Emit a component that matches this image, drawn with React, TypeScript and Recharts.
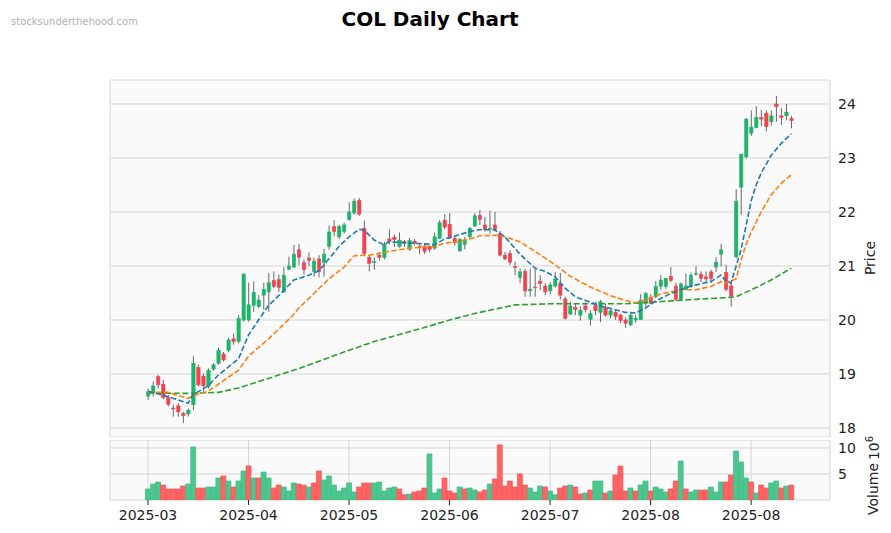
import React from 'react';
import { ComposedChart, Bar, Line, XAxis, YAxis, CartesianGrid, Cell } from 'recharts';

// daily candles, index 0 = first session shown
const opens = [
  18.59, 18.65, 18.95, 18.81, 18.56, 18.37, 18.41, 18.27, 18.26, 18.43, 19.12, 18.96, 18.77, 19.09, 19.2, 19.37, 19.44, 19.65, 19.6, 20.0,
  20.0, 20.27, 20.25, 20.46, 20.52, 20.73, 20.75, 20.52, 20.94, 20.98, 21.3, 21.06, 21.15, 20.9, 21.13, 21.06, 21.36, 21.73, 21.54, 21.64,
  21.86, 21.98, 22.21, 21.7, 21.16, 21.07, 21.2, 21.16, 21.5, 21.53, 21.36, 21.45, 21.31, 21.46, 21.36, 21.37, 21.36, 21.33, 21.51, 21.85,
  21.77, 21.51, 21.28, 21.4, 21.54, 21.74, 21.94, 21.76, 21.69, 21.76, 21.6, 21.2, 21.23, 20.99, 20.79, 20.9, 20.54, 20.61, 20.72, 20.63,
  20.54, 20.63, 20.67, 20.39, 20.11, 20.23, 20.09, 20.26, 20.01, 20.27, 20.14, 20.23, 20.09, 20.14, 20.09, 20.0, 19.91, 20.0, 20.01, 20.31,
  20.42, 20.43, 20.62, 20.62, 20.81, 20.63, 20.38, 20.56, 20.62, 20.85, 20.85, 20.8, 20.89, 20.98, 21.22, 20.88, 20.63, 21.17, 22.46, 23.02,
  23.46, 23.56, 23.75, 23.83, 23.67, 24.0, 23.78, 23.78, 23.73,
];
const highs = [
  18.73, 18.86, 18.98, 18.89, 18.61, 18.43, 18.46, 18.3, 18.36, 19.33, 19.17, 19.01, 19.1, 19.2, 19.49, 19.41, 19.67, 19.75, 20.09, 20.86,
  20.69, 20.71, 20.46, 20.69, 20.87, 20.9, 20.84, 20.98, 21.17, 21.39, 21.41, 21.12, 21.25, 21.15, 21.2, 21.32, 21.75, 21.85, 21.76, 21.8,
  22.18, 22.25, 22.26, 21.84, 21.2, 21.16, 21.25, 21.45, 21.68, 21.58, 21.62, 21.48, 21.52, 21.5, 21.4, 21.42, 21.38, 21.62, 21.85, 21.96,
  21.98, 21.55, 21.52, 21.54, 21.72, 21.98, 22.04, 21.91, 22.02, 22.0, 21.65, 21.26, 21.29, 21.08, 20.95, 20.95, 20.95, 20.95, 20.83, 20.68,
  20.7, 20.89, 20.87, 20.43, 20.34, 20.3, 20.25, 20.33, 20.18, 20.34, 20.37, 20.3, 20.2, 20.2, 20.12, 20.05, 20.12, 20.09, 20.48, 20.52,
  20.48, 20.72, 20.83, 20.78, 20.98, 20.69, 20.69, 20.86, 20.88, 20.99, 20.9, 20.9, 20.93, 21.16, 21.41, 21.02, 20.68, 22.42, 23.08, 23.74,
  23.88, 23.96, 23.89, 23.88, 23.88, 24.15, 23.92, 24.0, 23.78,
];
const lows = [
  18.52, 18.58, 18.73, 18.53, 18.4, 18.21, 18.21, 18.09, 18.21, 18.33, 18.77, 18.67, 18.73, 19.06, 19.17, 19.23, 19.4, 19.54, 19.57, 19.97,
  19.97, 20.15, 20.22, 20.19, 20.15, 20.59, 20.52, 20.5, 20.92, 20.96, 21.02, 20.84, 21.0, 20.8, 20.79, 20.8, 21.3, 21.55, 21.5, 21.6,
  21.84, 21.95, 21.93, 21.2, 20.9, 20.93, 21.1, 21.12, 21.4, 21.35, 21.34, 21.35, 21.28, 21.38, 21.22, 21.22, 21.25, 21.3, 21.5, 21.68,
  21.5, 21.38, 21.26, 21.31, 21.5, 21.72, 21.76, 21.64, 21.6, 21.64, 21.18, 21.11, 21.02, 20.83, 20.68, 20.43, 20.43, 20.43, 20.55, 20.46,
  20.48, 20.6, 20.38, 20.01, 20.09, 20.09, 19.99, 20.14, 19.9, 20.09, 19.96, 20.06, 20.03, 20.0, 19.94, 19.85, 19.88, 19.95, 20.0, 20.25,
  20.29, 20.4, 20.56, 20.58, 20.7, 20.35, 20.35, 20.55, 20.6, 20.82, 20.7, 20.68, 20.69, 20.89, 20.99, 20.53, 20.25, 21.14, 21.95, 22.99,
  23.41, 23.55, 23.59, 23.49, 23.6, 23.67, 23.61, 23.7, 23.55,
];
const closes = [
  18.67, 18.78, 18.8, 18.56, 18.44, 18.36, 18.3, 18.23, 18.33, 19.2, 18.8, 18.78, 19.07, 19.17, 19.44, 19.26, 19.63, 19.6, 20.03, 20.85,
  20.28, 20.51, 20.37, 20.57, 20.69, 20.62, 20.6, 20.83, 21.0, 21.22, 21.16, 20.93, 21.1, 21.09, 20.9, 21.22, 21.63, 21.64, 21.73, 21.76,
  22.0, 22.2, 21.96, 21.23, 21.05, 21.08, 21.16, 21.39, 21.45, 21.49, 21.48, 21.42, 21.47, 21.42, 21.34, 21.27, 21.31, 21.54, 21.8, 21.72,
  21.52, 21.43, 21.49, 21.48, 21.7, 21.93, 21.86, 21.68, 21.7, 21.68, 21.2, 21.13, 21.07, 20.98, 20.89, 20.54, 20.57, 20.6, 20.67, 20.52,
  20.65, 20.76, 20.46, 20.03, 20.26, 20.19, 20.18, 20.19, 20.12, 20.17, 20.34, 20.09, 20.17, 20.06, 19.99, 19.94, 20.09, 20.03, 20.37, 20.49,
  20.31, 20.62, 20.74, 20.77, 20.73, 20.38, 20.67, 20.63, 20.83, 20.86, 20.77, 20.76, 20.77, 21.07, 21.3, 20.57, 20.44, 22.2, 23.07, 23.72,
  23.57, 23.75, 23.72, 23.58, 23.78, 23.95, 23.75, 23.85, 23.69,
];
// volume in millions
const volumes = [
  2.12, 3.08, 3.46, 2.88, 2.12, 2.12, 2.12, 2.69, 3.08, 10.2, 2.31, 2.31, 2.5, 2.5, 4.23, 4.62, 3.65, 2.5, 3.65, 5.58,
  6.54, 4.23, 4.23, 5.38, 4.23, 2.31, 2.88, 2.5, 1.73, 3.27, 3.08, 2.88, 2.5, 3.27, 5.58, 3.85, 4.62, 2.88, 1.73, 2.31,
  3.27, 1.54, 2.5, 3.27, 3.27, 3.27, 3.46, 1.73, 2.31, 2.5, 2.12, 1.0, 1.15, 1.54, 1.73, 2.31, 8.85, 1.35, 2.12, 4.23,
  1.73, 1.35, 2.5, 2.12, 2.31, 1.92, 1.54, 1.92, 3.08, 4.04, 10.6, 2.69, 3.65, 2.5, 5.0, 2.88, 2.31, 1.54, 2.69, 2.5,
  1.73, 1.0, 2.31, 2.69, 2.88, 2.5, 1.15, 1.35, 1.92, 3.65, 3.65, 1.35, 1.73, 4.81, 6.54, 1.73, 2.31, 1.73, 2.88, 3.65,
  1.73, 2.5, 2.12, 1.54, 2.12, 3.65, 7.5, 2.12, 1.54, 1.92, 1.92, 1.92, 2.5, 1.54, 3.46, 3.46, 4.81, 9.42, 7.31, 4.23,
  3.46, 1.35, 2.88, 2.31, 3.27, 3.65, 2.31, 2.69, 2.88,
];

// moving averages at [index, price]
const maBlue: [number, number][] = [
  [0, 18.68], [4, 18.58], [8, 18.46], [9, 18.62], [12, 18.78], [14, 18.98], [18, 19.28], [20, 19.72], [22, 20.0], [24, 20.27],
  [26, 20.45], [29, 20.74], [32, 20.83], [34, 20.91], [35, 21.02], [38, 21.36], [40, 21.54], [42, 21.68], [43, 21.66], [45, 21.48],
  [47, 21.39], [48, 21.45], [51, 21.43], [55, 21.41], [57, 21.39], [59, 21.5], [61, 21.55], [64, 21.64], [66, 21.67], [69, 21.67],
  [71, 21.54], [74, 21.22], [77, 20.96], [79, 20.9], [81, 20.8], [83, 20.59], [85, 20.43], [88, 20.33], [90, 20.26], [93, 20.19],
  [95, 20.14], [97, 20.13], [99, 20.22], [101, 20.35], [104, 20.49], [107, 20.6], [110, 20.67], [112, 20.71], [114, 20.83], [115, 20.72],
  [116, 20.68], [118, 21.3], [119, 21.75], [120, 22.2], [121, 22.5], [122, 22.72], [124, 23.05], [126, 23.27], [128, 23.45],
];
const maOrange: [number, number][] = [
  [0, 18.66], [4, 18.66], [6, 18.6], [8, 18.55], [9, 18.6], [12, 18.68], [14, 18.81], [18, 19.07], [20, 19.33], [24, 19.65],
  [26, 19.83], [29, 20.1], [30, 20.22], [32, 20.4], [36, 20.76], [39, 20.98], [41, 21.19], [44, 21.2], [48, 21.27], [52, 21.33],
  [57, 21.36], [59, 21.42], [62, 21.46], [64, 21.5], [66, 21.56], [70, 21.57], [71, 21.54], [74, 21.45], [78, 21.21], [81, 21.02],
  [84, 20.81], [88, 20.61], [92, 20.45], [95, 20.36], [97, 20.32], [99, 20.37], [102, 20.48], [106, 20.56], [109, 20.56], [112, 20.62],
  [114, 20.71], [115, 20.69], [117, 20.76], [118, 21.1], [119, 21.4], [120, 21.62], [122, 22.0], [124, 22.32], [126, 22.53], [128, 22.69],
];
const maGreen: [number, number][] = [
  [0, 18.65], [8, 18.64], [14, 18.66], [18, 18.74], [25, 18.95], [30, 19.1], [35, 19.27], [40, 19.44], [45, 19.6], [50, 19.73],
  [55, 19.86], [60, 20.0], [65, 20.12], [70, 20.22], [73, 20.28], [80, 20.3], [95, 20.3], [107, 20.37], [116, 20.42], [117, 20.43],
  [121, 20.6], [124, 20.74], [128, 20.96],
];

const tickIdx = [0, 20, 40, 60, 80, 100, 120];
const tickLabels = ['2025-03', '2025-04', '2025-05', '2025-06', '2025-07', '2025-08', '2025-08'];
const priceTicks = [18, 19, 20, 21, 22, 23, 24];
const volTicks = [5, 10];

const UP = '#1db36b';
const DOWN = '#f0434f';
const VOL_UP = '#4cc58f';
const VOL_DOWN = '#ff6363';
const FONT = '"DejaVu Sans", sans-serif';

const lookup = (pts: [number, number][]) => {
  const m = new Map<number, number>();
  pts.forEach(([i, v]) => m.set(i, v));
  return m;
};
const blueMap = lookup(maBlue);
const orangeMap = lookup(maOrange);
const greenMap = lookup(maGreen);

const data = closes.map((c, i) => ({
  i,
  o: opens[i],
  h: highs[i],
  l: lows[i],
  c,
  v: volumes[i],
  range: [lows[i], highs[i]],
  volUp: i === 0 || c >= closes[i - 1],
  ma1: blueMap.get(i) ?? null,
  ma2: orangeMap.get(i) ?? null,
  ma3: greenMap.get(i) ?? null,
}));

const Candle = (props: any) => {
  const { x, y, width, height, payload } = props;
  if (!payload || height == null) return null;
  const { o, h, l, c } = payload;
  const px = (p: number) => y + ((h - p) / (h - l)) * height;
  const cx = x + width / 2;
  const up = c >= o;
  const top = px(Math.max(o, c));
  const bot = px(Math.min(o, c));
  const color = up ? UP : DOWN;
  return (
    <g>
      <line x1={cx} x2={cx} y1={y} y2={y + height} stroke="#666" strokeWidth={1} />
      <rect x={x} y={top} width={width} height={Math.max(bot - top, 0.8)} fill={color} stroke={color} strokeWidth={0.5} />
    </g>
  );
};

const X_DOMAIN: [number, number] = [-7.56, 135.7];
const tickStyle = { fontSize: 14, fill: '#222', fontFamily: FONT };

export default function App() {
  return (
    <div style={{ position: 'absolute', left: 0, top: 0, width: 891, height: 533, background: '#fff', fontFamily: FONT }}>
      <div style={{ position: 'absolute', left: 11, top: 16, fontSize: 10, color: '#b0b0b0' }}>stocksunderthehood.com</div>
      <div
        style={{
          position: 'absolute', left: 430, top: 7, transform: 'translateX(-50%)',
          fontSize: 20, fontWeight: 'bold', whiteSpace: 'nowrap', color: '#000',
        }}
      >
        COL Daily Chart
      </div>

      <div style={{ position: 'absolute', left: 0, top: 0 }}>
        <ComposedChart width={891} height={437} data={data} margin={{ top: 80, right: 21, bottom: 0, left: 110 }}>
          <CartesianGrid stroke="#d4d4d4" fill="#fafafa" />
          <XAxis type="number" dataKey="i" domain={X_DOMAIN} ticks={tickIdx} allowDataOverflow height={0} tick={false} tickLine={false} axisLine={false} />
          <YAxis
            orientation="right" width={40} domain={[17.833, 24.444]} ticks={priceTicks} allowDataOverflow
            tick={tickStyle} tickLine={false} axisLine={false} tickSize={6} tickMargin={2}
          />
          <Bar dataKey="range" barSize={3.4} shape={<Candle />} isAnimationActive={false} />
          <Line dataKey="ma3" stroke="#2ca02c" strokeWidth={1.6} strokeDasharray="6 2.6" dot={false} connectNulls isAnimationActive={false} />
          <Line dataKey="ma2" stroke="#ff7f0e" strokeWidth={1.6} strokeDasharray="5.5 2.4" dot={false} connectNulls isAnimationActive={false} />
          <Line dataKey="ma1" stroke="#1f77b4" strokeWidth={1.6} strokeDasharray="5.5 2.4" dot={false} connectNulls isAnimationActive={false} />
        </ComposedChart>
      </div>

      <div style={{ position: 'absolute', left: 0, top: 440 }}>
        <ComposedChart width={891} height={93} data={data} margin={{ top: 0, right: 21, bottom: 0, left: 110 }}>
          <CartesianGrid stroke="#d4d4d4" fill="#fafafa" />
          <XAxis
            type="number" dataKey="i" domain={X_DOMAIN} ticks={tickIdx} allowDataOverflow height={33}
            tickFormatter={(v: number) => tickLabels[tickIdx.indexOf(v)] ?? ''}
            tick={tickStyle} axisLine={false} tickLine={{ stroke: '#222' }} tickSize={5} tickMargin={5}
          />
          <YAxis
            orientation="right" width={40} domain={[0, 11.54]} ticks={volTicks} allowDataOverflow
            tick={tickStyle} tickLine={false} axisLine={false} tickSize={6} tickMargin={2}
          />
          <Bar dataKey="v" barSize={5} isAnimationActive={false}>
            {data.map((d) => (
              <Cell key={d.i} fill={d.volUp ? VOL_UP : VOL_DOWN} stroke={d.volUp ? '#3fba82' : '#f25555'} strokeWidth={0.7} />
            ))}
          </Bar>
        </ComposedChart>
      </div>

      <div style={{ position: 'absolute', left: 870, top: 258, transform: 'translate(-50%, -50%) rotate(-90deg)', fontSize: 14, color: '#222', whiteSpace: 'nowrap' }}>
        Price
      </div>
      <div style={{ position: 'absolute', left: 873, top: 489, transform: 'translate(-50%, -50%) rotate(-90deg)', fontSize: 14, color: '#222', whiteSpace: 'nowrap' }}>
        Volume
      </div>
      <div style={{ position: 'absolute', left: 873, top: 448, transform: 'translate(-50%, -50%) rotate(-90deg)', fontSize: 14, color: '#222', whiteSpace: 'nowrap' }}>
        10<sup style={{ fontSize: 10 }}>6</sup>
      </div>
    </div>
  );
}
